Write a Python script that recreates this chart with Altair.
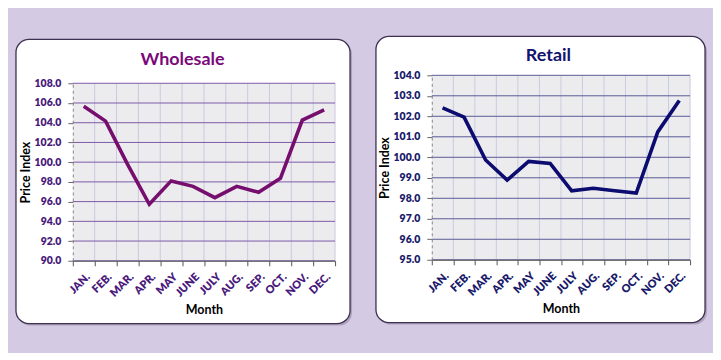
import altair as alt
import pandas as pd

months = ["JAN.", "FEB.", "MAR.", "APR.", "MAY", "JUNE", "JULY", "AUG.", "SEP.", "OCT.", "NOV.", "DEC."]
wholesale = [105.67, 104.16, 99.8, 95.73, 98.1, 97.55, 96.4, 97.55, 96.95, 98.36, 104.26, 105.3]
retail = [102.41, 101.96, 99.87, 98.89, 99.8, 99.7, 98.36, 98.49, 98.37, 98.25, 101.24, 102.77]
wholesale_ticks = [90, 92, 94, 96, 98, 100, 102, 104, 106, 108]
retail_ticks = [95, 96, 97, 98, 99, 100, 101, 102, 103, 104]

FONT = "Lato"


def panel(name, values, ticks, width, height, top, card, title_pos, colors):
    df = pd.DataFrame({"Month": months, "Value": values})
    grid_df = pd.DataFrame({"Value": ticks})
    one = pd.DataFrame({"k": [0]})
    xs = alt.Scale(type="band", paddingInner=0, paddingOuter=0)
    ys = alt.Scale(domain=[ticks[0], ticks[-1]], nice=False, zero=False, range=[height, top])
    xaxis = alt.Axis(title="Month", labelAngle=-45, tickBand="extent", grid=False,
                     domainColor="#555555", tickColor="#555555", tickSize=5,
                     labelFont=FONT, labelFontSize=11, labelFontWeight=800,
                     labelColor=colors["label"], labelPadding=5,
                     titleFont=FONT, titleFontSize=12.5, titleFontWeight="bold",
                     titleColor="black", titlePadding=5, zindex=1)
    yaxis = alt.Axis(values=ticks, format=".1f", title="Price Index", grid=False,
                     domainDash=[3, 3], domainColor="#888888", tickColor="#666666",
                     tickSize=5, labelFont=FONT, labelFontSize=10.5, labelFontWeight=800,
                     labelColor=colors["label"], labelPadding=7,
                     titleFont=FONT, titleFontSize=12.5, titleFontWeight="bold",
                     titleColor="black", titlePadding=2, zindex=1)
    x0, x1, y0, y1 = card
    shadow = alt.Chart(one).mark_rect(fill="#6a5a7a", opacity=0.35, cornerRadius=13).encode(
        x=alt.value(x0 + 2), x2=alt.value(x1 + 2), y=alt.value(y0 + 2), y2=alt.value(y1 + 2))
    card_l = alt.Chart(one).mark_rect(fill="white", stroke="#3e3050", strokeWidth=1.3, cornerRadius=13).encode(
        x=alt.value(x0), x2=alt.value(x1), y=alt.value(y0), y2=alt.value(y1))
    bg = alt.Chart(one).mark_rect(fill="#ececef").encode(
        x=alt.value(0), x2=alt.value(width), y=alt.value(top), y2=alt.value(height))
    vgrid = alt.Chart(df).mark_rule(color=colors["vgrid"], strokeWidth=1).encode(
        x=alt.X("Month:N", sort=months, scale=xs, bandPosition=1, axis=xaxis),
        y=alt.value(top), y2=alt.value(height))
    hgrid = alt.Chart(grid_df).mark_rule(color=colors["hgrid"], strokeWidth=1).encode(
        y=alt.Y("Value:Q", scale=ys, axis=yaxis))
    line = alt.Chart(df).mark_line(color=colors["line"], strokeWidth=3.6).encode(
        x=alt.X("Month:N", sort=months, scale=xs, bandPosition=0.5, axis=xaxis),
        y=alt.Y("Value:Q", scale=ys, axis=yaxis))
    title = alt.Chart(one).mark_text(text=name, font=FONT, fontSize=18, fontWeight="bold",
                                     color=colors["title"], align="center", baseline="middle").encode(
        x=alt.value(title_pos[0]), y=alt.value(title_pos[1]))
    return alt.layer(shadow, card_l, bg, vgrid, hgrid, line, title).properties(width=width, height=height)


# both plot origins sit at page y=74; the wholesale plot starts 8px lower via its y range
left = panel("Wholesale", wholesale, wholesale_ticks, 263, 186, 8, (-57, 278, -36, 249), (110, -15),
             {"vgrid": "#cfc8e0", "hgrid": "#7d5aa8", "line": "#760e6e", "label": "#4a1a7c", "title": "#7a0a7a"})
right = panel("Retail", retail, retail_ticks, 259, 185, 0, (-56, 274, -39, 248), (117, -19),
              {"vgrid": "#c8cce0", "hgrid": "#5a5a98", "line": "#0b0b70", "label": "#1a1a6a", "title": "#121270"})

chart = alt.hconcat(left, right, spacing=23).properties(
    padding={"left": 7, "top": 27, "right": 6, "bottom": 27},
    background="#d4cae3",
).configure_view(stroke=None)

chart.save("out.html", embed_options={"renderer": "svg", "actions": False})
